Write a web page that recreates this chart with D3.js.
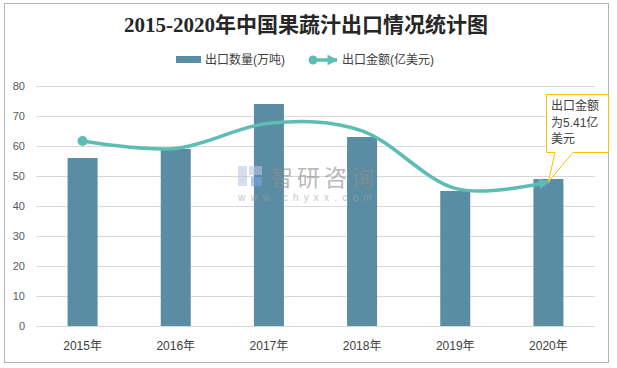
<!DOCTYPE html>
<html><head><meta charset="utf-8">
<script src="https://cdn.jsdelivr.net/npm/d3@7"></script>
<style>body{margin:0;background:#fff}svg{display:block}</style>
</head><body><svg id="c" width="617" height="368"></svg>
<script>
const categories = ["2015年","2016年","2017年","2018年","2019年","2020年"];
const volume = [56, 59, 74, 63, 45, 49];            // 出口数量(万吨)
const amount = [6.94, 6.66, 7.6, 7.32, 5.16, 5.41]; // 出口金额(亿美元)
const yTicks = [0,10,20,30,40,50,60,70,80];
const title = "2015-2020年中国果蔬汁出口情况统计图";
const legendNames = ["出口数量(万吨)", "出口金额(亿美元)"];
const calloutLines = ["出口金额", "为5.41亿", "美元"];

const svg = d3.select("#c");
const barColor = "#5a8ca4", lineColor = "#5dbdb2";
const fontSans = "'Liberation Sans','Noto Sans CJK SC',sans-serif";

// border
svg.append("rect").attr("x",4.5).attr("y",3.5).attr("width",604).attr("height",359)
  .attr("fill","#fff").attr("stroke","#b4b4b4").attr("stroke-width",1);

// title
svg.append("text").attr("x",306).attr("y",32).attr("text-anchor","middle")
  .attr("font-family","'Liberation Serif','Noto Sans CJK SC',serif").attr("font-weight","bold")
  .attr("font-size",21).attr("fill","#262626").text(title);

const x = d3.scaleBand().domain(categories).range([36,595]).padding(0);
const y = d3.scaleLinear().domain([0,80]).range([326,86]);
const y2 = d3.scaleLinear().domain([0,9]).range([326,86]);
const barW = 30;

// gridlines
svg.append("g").selectAll("line").data(yTicks).join("line")
  .attr("x1",36).attr("x2",595).attr("y1",d=>Math.round(y(d))+0.5).attr("y2",d=>Math.round(y(d))+0.5)
  .attr("stroke","#d9d9d9").attr("stroke-width",1);

// y axis labels
svg.append("g").selectAll("text").data(yTicks).join("text")
  .attr("x",25).attr("y",d=>y(d)+4).attr("text-anchor","end")
  .attr("font-family",fontSans).attr("font-size",11).attr("fill","#595959").text(d=>d);

// x labels
svg.append("g").selectAll("text").data(categories).join("text")
  .attr("x",d=>x(d)+x.bandwidth()/2).attr("y",350).attr("text-anchor","middle")
  .attr("font-family",fontSans).attr("font-size",12).attr("fill","#404040").text(d=>d);

// bars
svg.append("g").selectAll("rect").data(volume).join("rect")
  .attr("x",(d,i)=>x(categories[i])+x.bandwidth()/2-barW/2).attr("width",barW)
  .attr("y",d=>y(d)).attr("height",d=>y(0)-y(d)).attr("fill",barColor);

// watermark (on top, semi-transparent)
const wm = svg.append("g").attr("opacity",0.6);
wm.append("rect").attr("x",238).attr("y",166).attr("width",9).attr("height",20).attr("fill","#b9c9e2");
wm.append("rect").attr("x",249).attr("y",166).attr("width",13).attr("height",9).attr("fill","#b9c9e2");
wm.append("rect").attr("x",251).attr("y",177).attr("width",11).attr("height",9).attr("fill","#7aa6dc");
wm.append("text").attr("x",270).attr("y",186).attr("font-family","'Noto Sans CJK SC',sans-serif")
  .attr("font-size",23).attr("letter-spacing",4).attr("fill","#8c8c8c").text("智研咨询");
wm.append("text").attr("x",238).attr("y",201).attr("font-family",fontSans)
  .attr("font-size",10).attr("letter-spacing",5.2).attr("fill","#a0a0a0").text("www.chyxx.com");

// line
const pts = amount.map((v,i)=>[x(categories[i])+x.bandwidth()/2, y2(v)]);
svg.append("defs").append("marker").attr("id","arr").attr("viewBox","0 0 10 10")
  .attr("refX",9).attr("refY",5).attr("markerWidth",3.2).attr("markerHeight",3)
  .attr("markerUnits","strokeWidth").attr("orient","auto")
  .append("path").attr("d","M0,0L10,5L0,10Z").attr("fill",lineColor);
svg.append("path").attr("d",d3.line().curve(d3.curveCardinal.tension(0))(pts))
  .attr("fill","none").attr("stroke",lineColor).attr("stroke-width",3.5)
  .attr("stroke-linecap","round").attr("marker-end","url(#arr)");
svg.append("circle").attr("cx",pts[0][0]).attr("cy",pts[0][1]).attr("r",5).attr("fill",lineColor);

// callout
const last = pts[pts.length-1];
svg.append("path")
  .attr("d",`M546.5,94.5H608.5V152.5H573L${last[0]},${last[1]}L555,152.5H546.5Z`)
  .attr("fill","#fff").attr("stroke","#ffc000").attr("stroke-width",1);
svg.append("g").selectAll("text").data(calloutLines).join("text")
  .attr("x",551).attr("y",(d,i)=>110+i*16.5)
  .attr("font-family",fontSans).attr("font-size",12).attr("fill","#404040").text(d=>d);

// legend
const lg = svg.append("g");
lg.append("rect").attr("x",176).attr("y",56).attr("width",25).attr("height",7).attr("fill",barColor);
lg.append("text").attr("x",205).attr("y",64).attr("font-family",fontSans).attr("font-size",12)
  .attr("fill","#404040").text(legendNames[0]);
lg.append("line").attr("x1",313).attr("x2",337).attr("y1",60).attr("y2",60)
  .attr("stroke",lineColor).attr("stroke-width",3.5).attr("marker-end","url(#arr)");
lg.append("circle").attr("cx",313).attr("cy",60).attr("r",4.5).attr("fill",lineColor);
lg.append("text").attr("x",342).attr("y",64).attr("font-family",fontSans).attr("font-size",12)
  .attr("fill","#404040").text(legendNames[1]);
</script></body></html>
